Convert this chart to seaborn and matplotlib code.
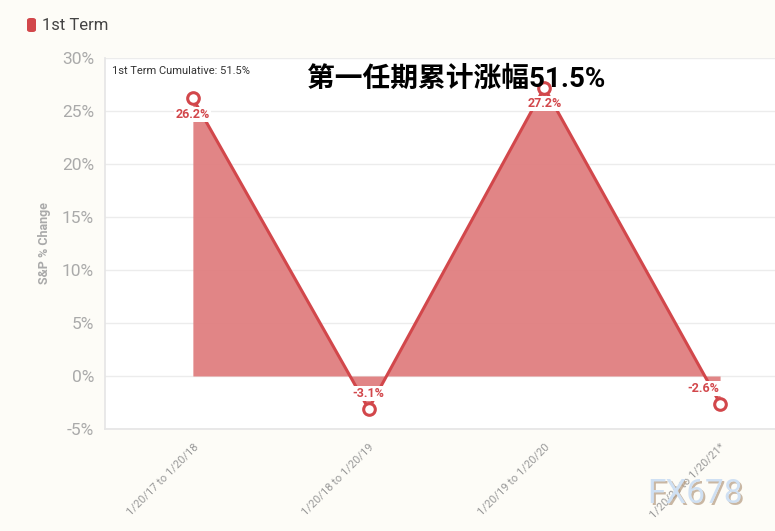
import numpy as np
import pandas as pd
import matplotlib.pyplot as plt
import seaborn as sns
from matplotlib.patches import FancyBboxPatch

# Chart data
periods = ['1/20/17 to 1/20/18', '1/20/18 to 1/20/19', '1/20/19 to 1/20/20', '1/20/20 to 1/20/21*']
changes = [26.2, -3.1, 27.2, -2.6]
y_ticks = [-5, 0, 5, 10, 15, 20, 25, 30]

df = pd.DataFrame({'period': periods, 'change': changes})
df['x'] = np.arange(len(df))

sns.set_theme(style='white')
plt.rcParams['font.family'] = ['Roboto', 'Noto Sans CJK SC', 'DejaVu Sans']

red = '#d2474b'
fill = '#e07f80'
bg = '#fdfcf7'

fig = plt.figure(figsize=(7.75, 5.31), dpi=100, facecolor=bg)
ax = fig.add_axes([105 / 775, 1 - 429 / 531, 670 / 775, 371 / 531])
ax.set_facecolor('white')

# area + line
ax.fill_between(df['x'], df['change'], 0, color=fill, alpha=0.95, linewidth=0, zorder=2)
sns.lineplot(data=df, x='x', y='change', color=red, linewidth=2.2, ax=ax, zorder=3)
ax.scatter(df['x'], df['change'], s=70, facecolor='white', edgecolor=red, linewidth=2.2, zorder=7)

# point labels (last one nudged left, it sits near the edge)
for i, (xi, v) in enumerate(zip(df['x'], df['change'])):
    off_y = -11.5 if v > 0 else 11
    off_x = -12 if i == len(df) - 1 else 0
    ax.annotate(f'{v}%', (xi, v), xytext=(off_x, off_y), textcoords='offset points',
                ha='center', va='center', fontsize=9, fontweight='bold', color=red,
                bbox=dict(boxstyle='square,pad=0.1', fc='white', ec='none'), zorder=6)

ax.set_xlim(-0.5, 3 + 55 / 176)
ax.set_ylim(-5, 30)
ax.set_yticks(y_ticks)
ax.set_yticklabels([f'{t}%' for t in y_ticks], fontsize=12.5, color='#aaaaaa')
ax.set_xticks(df['x'])
ax.set_xticklabels(df['period'], rotation=45, ha='right', rotation_mode='anchor',
                   fontsize=8, color='#999999')
ax.tick_params(axis='x', length=5, color='#e6e6e6', pad=4)
ax.tick_params(axis='y', length=5, color='#e6e6e6', pad=3)
ax.grid(axis='y', color='#ececec', linewidth=1)
ax.set_axisbelow(True)
for s in ['top', 'right']:
    ax.spines[s].set_visible(False)
for s in ['left', 'bottom']:
    ax.spines[s].set_color('#e6e6e6')
ax.set_xlabel('')
ax.set_ylabel('S&P % Change', fontsize=9, fontweight='bold', color='#aaaaaa', labelpad=8)

fig.text(112 / 775, 1 - 71 / 531, '1st Term Cumulative: 51.5%',
         fontsize=8, color='#333333', va='center')
fig.text(456 / 775, 1 - 79 / 531, '第一任期累计涨幅51.5%', fontsize=20, fontweight='bold',
         color='black', ha='center', va='center')

# legend
fig.patches.append(FancyBboxPatch((27 / 775, 1 - 32 / 531), 9 / 775, 14 / 531,
                                  boxstyle='round,pad=0,rounding_size=0.004',
                                  transform=fig.transFigure, fc=red, ec='none'))
fig.text(42 / 775, 1 - 25 / 531, '1st Term', fontsize=12, color='#444444', va='center')

# watermark
fig.text(649 / 775, 1 - 496 / 531, 'FX678', fontsize=24, color='#b49a80', alpha=0.7, va='center')
fig.text(647 / 775, 1 - 494 / 531, 'FX678', fontsize=24, color='#cfe0f3', va='center')

fig.savefig('out.png', dpi=100, facecolor=bg)
